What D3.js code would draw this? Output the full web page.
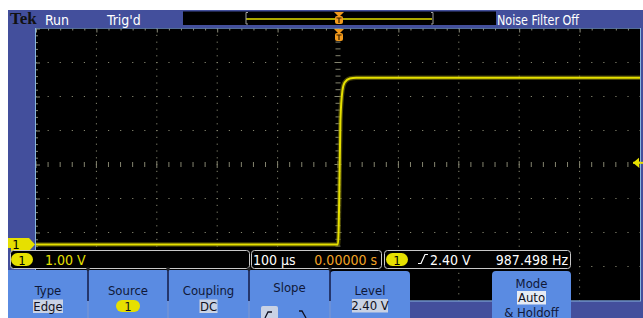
<!DOCTYPE html>
<html>
<head>
<meta charset="utf-8">
<script src="https://cdn.jsdelivr.net/npm/d3@7"></script>
<style>
  body { margin: 0; background: #fff; }
  svg text { font-family: "Liberation Sans Narrow", "DejaVu Sans Condensed", "Liberation Sans", sans-serif; }
</style>
</head>
<body>
<div class="chart"></div>
<script>
// captured waveform: time relative to trigger (us) and channel 1 voltage (V)
var timeUs = [-500, 0, 1, 2, 4, 7.4, 11, 19.5, 30, 500];
var volts  = [0, 0, 0.4, 1.3, 3.65, 4.53, 4.76, 4.88, 4.9, 4.9];

// scope settings / readouts
var voltsPerDiv = 1.0;
var usPerDiv = 100;
var groundDiv = -2.35;        // channel offset in divisions
var triggerLevel = 2.4;
var readouts = ["1.00 V", "100 \u00b5s", "0.00000 s", "2.40 V", "987.498 Hz"];
var topLabels = ["Run", "Trig'd", "Noise Filter Off"];
var menuLabels = ["Type", "Source", "Coupling", "Slope", "Level", "Mode"];
var menuValues = ["Edge", "1", "DC", "", "2.40 V", "Auto"];

var svgWidth = 643, svgHeight = 318;
var frameBlue = "#434f9c", buttonBlue = "#5a8be2", yellow = "#e6e000";

var svg = d3.select(".chart").append("svg")
  .attr("width", svgWidth)
  .attr("height", svgHeight);

// graticule geometry (10 x 8 divisions)
var grat = { left: 36, right: 640, top: 28.5, bottom: 300.5 };
var xDiv = d3.scaleLinear().domain([-5, 5]).range([grat.left, grat.right]);
var yDiv = d3.scaleLinear().domain([-4, 4]).range([grat.bottom, grat.top]);

// data scales
var xScale = d3.scaleLinear()
  .domain([-5 * usPerDiv, 5 * usPerDiv])
  .range([grat.left, grat.right]);
var yScale = d3.scaleLinear()
  .domain([(-4 - groundDiv) * voltsPerDiv, (4 - groundDiv) * voltsPerDiv])
  .range([grat.bottom, grat.top]);

// blue frame
svg.append("rect").attr("x", 8).attr("y", 10).attr("width", svgWidth - 8).attr("height", svgHeight - 10)
  .attr("fill", frameBlue);

// graticule background
svg.append("rect")
  .attr("x", grat.left).attr("y", grat.top)
  .attr("width", grat.right - grat.left).attr("height", grat.bottom - grat.top)
  .attr("fill", "#000");

svg.append("clipPath").attr("id", "gclip").append("rect")
  .attr("x", grat.left).attr("y", grat.top)
  .attr("width", grat.right - grat.left).attr("height", grat.bottom - grat.top);

var gridG = svg.append("g").attr("clip-path", "url(#gclip)");
var fine = d3.range(-25, 26).map(d => d / 5);
var fineY = d3.range(-20, 21).map(d => d / 5);
var gridColor = "#84846f";

// dotted vertical lines
[-4, -3, -2, -1, 1, 2, 3, 4].forEach(function (c) {
  gridG.selectAll(null).data(fineY).enter().append("rect")
    .attr("x", xDiv(c) - 0.5).attr("y", d => yDiv(d) - 0.5)
    .attr("width", 1).attr("height", 1.2).attr("fill", gridColor);
});
// dotted horizontal lines
[-3, -2, -1, 1, 2, 3].forEach(function (r) {
  gridG.selectAll(null).data(fine).enter().append("rect")
    .attr("x", d => xDiv(d) - 0.5).attr("y", yDiv(r) - 0.5)
    .attr("width", 1.2).attr("height", 1).attr("fill", gridColor);
});
// center cross ticks
gridG.selectAll(null).data(fineY).enter().append("line")
  .attr("x1", d => xDiv(0) - (Number.isInteger(d) ? 3.5 : 2.5))
  .attr("x2", d => xDiv(0) + (Number.isInteger(d) ? 3.5 : 2.5))
  .attr("y1", d => yDiv(d)).attr("y2", d => yDiv(d))
  .attr("stroke", gridColor).attr("stroke-width", 1);
gridG.selectAll(null).data(fine).enter().append("line")
  .attr("y1", d => yDiv(0) - (Number.isInteger(d) ? 3.5 : 2.5))
  .attr("y2", d => yDiv(0) + (Number.isInteger(d) ? 3.5 : 2.5))
  .attr("x1", d => xDiv(d)).attr("x2", d => xDiv(d))
  .attr("stroke", gridColor).attr("stroke-width", 1);

// edge ticks via axes
var topAxis = d3.axisBottom(xDiv).tickValues(fine).tickSize(2).tickFormat("");
var leftAxis = d3.axisRight(yDiv).tickValues(fineY).tickSize(2).tickFormat("");
var tg = gridG.append("g").attr("transform", `translate(0, ${grat.top})`).call(topAxis);
var lg = gridG.append("g").attr("transform", `translate(${grat.left}, 0)`).call(leftAxis);
[tg, lg].forEach(function (g) {
  g.select(".domain").remove();
  g.selectAll("line").attr("stroke", "#8a8a7a");
});
tg.selectAll(".tick line").filter(d => Number.isInteger(d)).attr("y2", 4);
lg.selectAll(".tick line").filter(d => Number.isInteger(d)).attr("x2", 4);

// graticule border
svg.append("rect")
  .attr("x", grat.left - 0.5).attr("y", grat.top - 0.5)
  .attr("width", grat.right - grat.left + 1).attr("height", grat.bottom - grat.top + 1)
  .attr("fill", "none").attr("stroke", "#86b4dc").attr("stroke-width", 1);

// trace
var wave = timeUs.map((t, i) => ({ t: t, v: volts[i] }));
var line = d3.line().x(d => xScale(d.t)).y(d => yScale(d.v)).curve(d3.curveMonotoneX);
var traceG = svg.append("g").attr("clip-path", "url(#gclip)");
traceG.append("path").datum(wave).attr("d", line)
  .attr("fill", "none").attr("stroke", "#76720a").attr("stroke-width", 4.5).attr("opacity", 0.6);
traceG.append("path").datum(wave).attr("d", line)
  .attr("fill", "none").attr("stroke", yellow).attr("stroke-width", 2);

// trigger level arrow (right edge)
var ty = yScale(triggerLevel);
svg.append("path")
  .attr("d", `M${grat.right - 7},${ty} L${grat.right - 1},${ty - 5} L${grat.right - 1},${ty + 5} Z`)
  .attr("fill", yellow);
svg.append("line").attr("x1", grat.right - 7).attr("x2", grat.right + 3).attr("y1", ty).attr("y2", ty)
  .attr("stroke", yellow).attr("stroke-width", 2);

// ground marker (left)
var gy = yScale(0);
svg.append("path")
  .attr("d", `M8,${gy - 6.5} L29,${gy - 6.5} L35,${gy} L29,${gy + 6.5} L8,${gy + 6.5} Z`)
  .attr("fill", yellow);
svg.append("text").attr("x", 16).attr("y", gy + 5).attr("text-anchor", "middle")
  .attr("font-size", 13).attr("fill", "#000").text("1");

// top status bar
svg.append("rect").attr("x", 8).attr("y", 10).attr("width", svgWidth - 8).attr("height", grat.top - 10.5)
  .attr("fill", frameBlue);
svg.append("text").attr("x", 10).attr("y", 24)
  .style("font-family", "'Liberation Serif', 'DejaVu Serif', serif")
  .attr("font-weight", "bold").attr("font-size", 17).attr("fill", "#111").text("Tek");
svg.append("text").attr("x", 45).attr("y", 24.5).attr("font-size", 14).attr("fill", "#fff").text(topLabels[0]);
svg.append("text").attr("x", 107).attr("y", 24.5).attr("font-size", 14).attr("fill", "#fff").text(topLabels[1]);
svg.append("text").attr("x", 497).attr("y", 24.5).attr("font-size", 14).attr("fill", "#fff")
  .attr("textLength", 82).attr("lengthAdjust", "spacingAndGlyphs").text(topLabels[2]);

// record view
svg.append("rect").attr("x", 183).attr("y", 11.5).attr("width", 313).attr("height", 13.5).attr("fill", "#000");
var rv = d3.scaleLinear().domain([-5, 5]).range([246, 432]);
svg.append("line").attr("x1", rv(-5)).attr("x2", rv(5)).attr("y1", 19).attr("y2", 19)
  .attr("stroke", yellow).attr("stroke-width", 1.5);
svg.append("path").attr("d", `M${rv(-5) + 2},12.5 H${rv(-5)} V24 H${rv(-5) + 2}`)
  .attr("fill", "none").attr("stroke", "#a0a0a0").attr("stroke-width", 1);
svg.append("path").attr("d", `M${rv(5) - 1},12.5 H${rv(5) + 1} V24 H${rv(5) - 1}`)
  .attr("fill", "none").attr("stroke", "#a0a0a0").attr("stroke-width", 1);

function trigMarker(cx, y0) {
  var g = svg.append("g");
  g.append("path").attr("d", `M${cx - 5},${y0} L${cx + 5},${y0} L${cx},${y0 + 5} Z`).attr("fill", "#f39a1c");
  g.append("rect").attr("x", cx - 4).attr("y", y0 + 4).attr("width", 8).attr("height", 8).attr("rx", 2)
    .attr("fill", "#f39a1c");
  g.append("path").attr("d", `M${cx - 2.5},${y0 + 6} H${cx + 2.5} M${cx},${y0 + 6} V${y0 + 11}`)
    .attr("stroke", "#3a2000").attr("stroke-width", 1.2);
}
trigMarker(xScale(0) + 1, 12);
trigMarker(xScale(0) + 1, 29);

// readout row
function box(x, w) {
  svg.append("rect").attr("x", x).attr("y", 250.5).attr("width", w).attr("height", 18).attr("rx", 3)
    .attr("fill", "#000").attr("stroke", "#c8c8c8").attr("stroke-width", 1);
}
function pill(cx, cy) {
  svg.append("rect").attr("x", cx - 11).attr("y", cy - 6.5).attr("width", 22).attr("height", 13).attr("rx", 6.5)
    .attr("fill", yellow);
  svg.append("text").attr("x", cx).attr("y", cy + 5).attr("text-anchor", "middle")
    .attr("font-size", 13).attr("fill", "#000").text("1");
}
svg.append("rect").attr("x", 8).attr("y", 248).attr("width", 3).attr("height", 22).attr("fill", frameBlue);
box(10.5, 239);
box(251.5, 130);
box(384.5, 186);
pill(22, 259.5);
svg.append("text").attr("x", 45).attr("y", 264.5).attr("font-size", 14).attr("fill", yellow).text(readouts[0]);
svg.append("text").attr("x", 253).attr("y", 264.5).attr("font-size", 14).attr("fill", "#fff").text(readouts[1]);
svg.append("text").attr("x", 377).attr("y", 264.5).attr("font-size", 14).attr("text-anchor", "end")
  .attr("fill", "#f3a426").text(readouts[2]);
pill(397, 259.5);
svg.append("path").attr("d", "M418,263.5 H421 L425,254.5 H428").attr("fill", "none")
  .attr("stroke", "#fff").attr("stroke-width", 1.2);
svg.append("text").attr("x", 430).attr("y", 264.5).attr("font-size", 14).attr("fill", "#fff").text(readouts[3]);
svg.append("text").attr("x", 568).attr("y", 264.5).attr("font-size", 14).attr("text-anchor", "end")
  .attr("fill", "#fff").text(readouts[4]);

// bottom menu
var menuX = [8, 88, 168, 249, 330, 492];
var menuW = [80, 80, 81, 81, 80, 79];
svg.append("rect").attr("x", 8).attr("y", 270).attr("width", 322).attr("height", 48).attr("fill", buttonBlue);
[4, 5].forEach(function (i) {
  svg.append("path")
    .attr("d", `M${menuX[i]},318 V275 Q${menuX[i]},271 ${menuX[i] + 4},271 H${menuX[i] + menuW[i] - 4} Q${menuX[i] + menuW[i]},271 ${menuX[i] + menuW[i]},275 V318 Z`)
    .attr("fill", buttonBlue);
});
[88, 168, 249, 330].forEach(function (x) {
  svg.append("line").attr("x1", x).attr("x2", x).attr("y1", 268).attr("y2", 301)
    .attr("stroke", "#141a44").attr("stroke-width", 1.5);
  svg.append("line").attr("x1", x).attr("x2", x).attr("y1", 301).attr("y2", 318)
    .attr("stroke", "#7f98cf").attr("stroke-width", 1);
  svg.append("circle").attr("cx", x).attr("cy", 269).attr("r", 1.8).attr("fill", "#222");
});

var labelY = [294.5, 294.5, 294.5, 291.5, 295, 288];
menuLabels.forEach(function (label, i) {
  var cx = menuX[i] + menuW[i] / 2;
  svg.append("text").attr("x", cx).attr("y", labelY[i]).attr("text-anchor", "middle")
    .attr("font-size", 13).attr("fill", "#101838").text(label);
});
function valueBox(i, y, w, txt, fill) {
  var cx = menuX[i] + menuW[i] / 2;
  if (fill === yellow) {
    svg.append("rect").attr("x", cx - 12).attr("y", y).attr("width", 24).attr("height", 12).attr("rx", 6).attr("fill", yellow);
  } else {
    svg.append("rect").attr("x", cx - w / 2).attr("y", y).attr("width", w).attr("height", 13.5).attr("fill", fill);
  }
  svg.append("text").attr("x", cx).attr("y", y + 11).attr("text-anchor", "middle")
    .attr("font-size", 13).attr("fill", "#101020").text(txt);
}
valueBox(0, 299.5, 30, menuValues[0], "#c9d2e4");
valueBox(1, 300, 24, menuValues[1], yellow);
valueBox(2, 299.5, 18, menuValues[2], "#c9d2e4");
valueBox(4, 299, 36, menuValues[4], "#c9d2e4");
valueBox(5, 291, 29, menuValues[5], "#e6ebf4");
svg.append("text").attr("x", menuX[5] + menuW[5] / 2).attr("y", 316.5).attr("text-anchor", "middle")
  .attr("font-size", 13).attr("fill", "#101838").text("& Holdoff");

// slope icons
svg.append("rect").attr("x", 261).attr("y", 306).attr("width", 17).attr("height", 14).attr("rx", 2).attr("fill", "#c9d2e4");
svg.append("path").attr("d", "M265,318 L268,312 H272").attr("fill", "none").attr("stroke", "#101020").attr("stroke-width", 1.3);
svg.append("path").attr("d", "M299,311 H302 L306,318").attr("fill", "none").attr("stroke", "#101020").attr("stroke-width", 1.3);
</script>
</body>
</html>
